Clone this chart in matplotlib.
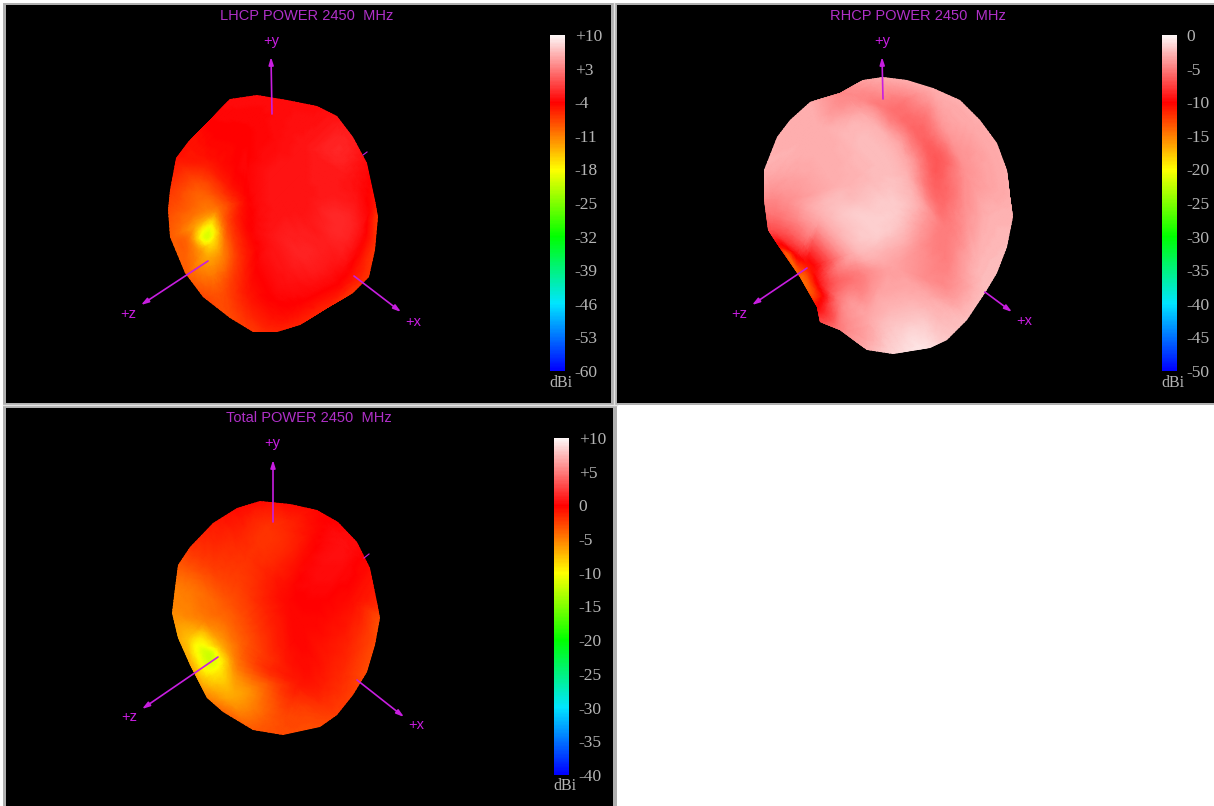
import matplotlib
matplotlib.use('Agg')
import matplotlib.pyplot as plt
import matplotlib.tri as mtri
from matplotlib.colors import LinearSegmentedColormap, Normalize
from matplotlib.cm import ScalarMappable
from matplotlib.patches import Polygon, Rectangle

W = 1214
H = 806

# LHCP pattern, outline then inner points (image pixels, dBi)
lhcp_edge_x = [230, 257, 287, 317, 337, 353, 367, 375, 378, 375, 369, 353, 327, 300, 277, 253, 230, 203, 185, 170, 168, 170, 176, 188, 210]
lhcp_edge_y = [99, 95, 100, 106, 116, 137, 163, 200, 217, 250, 277, 293, 308, 325, 332, 332, 318, 297, 273, 237, 210, 190, 158, 142, 120]
lhcp_edge_db = [-3.5, -3.5, -3.5, -3.5, -3, -2.5, -3.5, -5, -7, -7, -7, -7, -6, -6, -6, -7, -8, -8, -9, -9, -8, -7, -5, -5, -4]
lhcp_in_x = [207, 213, 195, 200, 188, 207, 223, 190, 217, 200, 220, 230, 240, 228, 250, 250, 270, 300, 300, 250, 340, 350, 360, 340, 300, 280, 210, 235]
lhcp_in_y = [237, 243, 225, 250, 240, 258, 257, 215, 207, 190, 293, 285, 260, 225, 200, 290, 240, 200, 150, 130, 150, 180, 230, 280, 300, 320, 160, 190]
lhcp_in_db = [-20, -16, -12.5, -12.5, -10, -13, -11, -10, -10, -9, -8.5, -7.5, -6.5, -8, -4, -5, -3, -3, -3, -4, -2, -3, -3, -4, -4, -5, -5, -5]
lhcp_ticks = [10, 3, -4, -11, -18, -25, -32, -39, -46, -53, -60]
lhcp_labels = ['+10', '+3', '-4', '-11', '-18', '-25', '-32', '-39', '-46', '-53', '-60']

# RHCP pattern
rhcp_edge_x = [863, 883, 907, 933, 960, 980, 997, 1007, 1010, 1013, 1007, 997, 985, 967, 947, 930, 893, 867, 840, 820, 817, 800, 780, 768, 764, 764, 777, 790, 810, 840]
rhcp_edge_y = [80, 77, 80, 88, 100, 120, 143, 170, 197, 217, 247, 273, 293, 320, 340, 348, 354, 350, 330, 322, 307, 277, 248, 230, 200, 170, 137, 120, 102, 93]
rhcp_edge_db = [-3.5, -3, -3, -3, -3, -3, -3, -3, -3, -2.8, -2.5, -2.3, -2.3, -2.3, -2, -1, -1.5, -3, -5, -7, -10, -14, -11, -7, -4.5, -3, -3, -3, -3, -4.5]
rhcp_in_x = [855, 893, 920, 937, 935, 947, 943, 890, 905, 853, 820, 965, 987, 977, 920, 927, 870, 860, 820, 808, 803, 813, 787, 797, 773, 777, 820, 853, 893, 833, 840, 867, 870, 895, 945, 912, 965]
rhcp_in_y = [95, 110, 133, 160, 190, 233, 283, 223, 165, 180, 133, 170, 217, 267, 343, 300, 317, 277, 283, 267, 277, 293, 253, 253, 230, 200, 217, 253, 267, 320, 300, 333, 120, 145, 125, 195, 215]
rhcp_in_db = [-4.5, -5.5, -6, -6.5, -6, -5, -4.5, -1.8, -3, -2.8, -3, -4.2, -3, -2.8, -1, -3, -3.2, -5, -9, -11, -14, -13, -13, -9, -7, -4.5, -3, -3, -3.5, -6.5, -5, -3.5, -3, -3, -3.8, -2.7, -4.2]
rhcp_ticks = [0, -5, -10, -15, -20, -25, -30, -35, -40, -45, -50]
rhcp_labels = ['0', '-5', '-10', '-15', '-20', '-25', '-30', '-35', '-40', '-45', '-50']

# Total pattern
total_edge_x = [237, 260, 290, 317, 338, 357, 370, 377, 380, 375, 367, 353, 337, 320, 283, 253, 223, 207, 190, 178, 172, 175, 178, 190, 213]
total_edge_y = [508, 501, 504, 510, 522, 542, 568, 602, 618, 645, 672, 695, 715, 727, 735, 730, 712, 698, 665, 638, 613, 588, 565, 547, 523]
total_edge_db = [-0.5, -0.5, -0.5, -0.3, 0, 0.3, -0.5, -1.5, -3, -3, -3, -2.5, -2.5, -3, -3, -3.5, -4, -5, -6.5, -6.5, -5.5, -5, -3.5, -2, -1]
total_in_x = [210, 217, 197, 187, 222, 220, 233, 238, 205, 193, 230, 245, 250, 290, 300, 270, 340, 350, 340, 300, 280, 215, 203]
total_in_y = [655, 663, 645, 638, 645, 672, 698, 660, 620, 588, 610, 560, 640, 600, 680, 530, 545, 600, 670, 710, 720, 570, 680]
total_in_db = [-12, -10.5, -10, -7.5, -6.5, -9, -6.5, -4.5, -5, -4.5, -3.5, -2, -3, -0.3, -0.8, -2, 0.5, -0.5, -1.5, -2.5, -3, -2.5, -7.5]
total_ticks = [10, 5, 0, -5, -10, -15, -20, -25, -30, -35, -40]
total_labels = ['+10', '+5', '0', '-5', '-10', '-15', '-20', '-25', '-30', '-35', '-40']

plt.rcParams['font.family'] = ['Liberation Sans', 'DejaVu Sans']

rainbow = LinearSegmentedColormap.from_list(
    'pattern', ['#0000ff', '#00e5ff', '#00ff00', '#ffff00', '#ff0000', '#fdf6f6'])

AXIS_COL = '#c81ee0'
TITLE_COL = '#b030c8'


def pixel_axes(fig, x0, y0, x1, y1):
    return fig.add_axes([x0 / W, 1 - y1 / H, (x1 - x0) / W, (y1 - y0) / H])


def arrow(ax, start, tip):
    ax.annotate('', xy=tip, xytext=start,
                arrowprops=dict(arrowstyle='-|>,head_length=0.45,head_width=0.14', color=AXIS_COL,
                                lw=1.2, shrinkA=0, shrinkB=0))


def panel(fig, box, title, title_xy, ex, ey, edb, ix, iy, idb, ticks, labels,
          arrows, stub, axis_labels, bar_box, dbi_xy):
    ax = pixel_axes(fig, *box)
    ax.set_xlim(box[0], box[2])
    ax.set_ylim(box[3], box[1])
    ax.set_facecolor('black')
    ax.set_xticks([])
    ax.set_yticks([])
    for s in ax.spines.values():
        s.set_visible(False)

    norm = Normalize(ticks[-1], ticks[0])
    tri = mtri.Triangulation(ex + ix, ey + iy)
    interp = mtri.CubicTriInterpolator(tri, edb + idb, kind='geom')
    fine, fine_db = mtri.UniformTriRefiner(tri).refine_field(edb + idb, interp, subdiv=3)
    mesh = ax.tripcolor(fine, fine_db, shading='gouraud', cmap=rainbow, norm=norm)
    mesh.set_clip_path(Polygon(list(zip(ex, ey)), closed=True, transform=ax.transData))

    ax.plot(stub[0], stub[1], color=AXIS_COL, lw=0.8)
    for start, tip in arrows:
        arrow(ax, start, tip)
    for txt, xy in zip(['+y', '+z', '+x'], axis_labels):
        ax.text(xy[0], xy[1], txt, color=AXIS_COL, fontsize=10.5, ha='center', va='center')
    ax.text(title_xy[0], title_xy[1], title, color=TITLE_COL, fontsize=10.5,
            ha='center', va='center')

    cax = pixel_axes(fig, *bar_box)
    cb = fig.colorbar(ScalarMappable(norm=norm, cmap=rainbow), cax=cax)
    cb.outline.set_visible(False)
    cb.set_ticks(ticks, labels=labels)
    cax.tick_params(length=0, pad=7, labelsize=12.5, labelcolor='#b4b4b4')
    for lab in cax.get_yticklabels():
        lab.set_family('Liberation Serif')
    ax.text(dbi_xy[0], dbi_xy[1], 'dBi', color='#b4b4b4', fontsize=11.5,
            family='Liberation Serif', ha='center', va='center')


fig = plt.figure(figsize=(W / 100, H / 100), dpi=100, facecolor='white')

# grey window frames
back = fig.add_axes([0, 0, 1, 1])
back.set_xlim(0, W)
back.set_ylim(H, 0)
back.axis('off')
back.add_patch(Rectangle((3, 3), W - 3, 402, color='#b0b0b0', lw=0))
back.add_patch(Rectangle((3, 405), 614, H - 405, color='#b0b0b0', lw=0))
back.plot([614, 614], [3, 405], color='#e4e4e4', lw=1)
back.plot([3, 617], [405, 405], color='#e4e4e4', lw=1)

panel(fig, (6, 5, 611, 403), 'LHCP POWER 2450  MHz', (307, 16),
      lhcp_edge_x, lhcp_edge_y, lhcp_edge_db, lhcp_in_x, lhcp_in_y, lhcp_in_db,
      lhcp_ticks, lhcp_labels,
      [((272, 114), (271, 57)), ((208, 261), (141, 305)), ((354, 276), (401, 312))],
      ([363, 367], [155, 152]), [(271, 41), (128, 314), (413, 322)],
      (550, 35, 565, 371), (561, 383))
panel(fig, (617, 5, W, 403), 'RHCP POWER 2450  MHz', (918, 16),
      rhcp_edge_x, rhcp_edge_y, rhcp_edge_db, rhcp_in_x, rhcp_in_y, rhcp_in_db,
      rhcp_ticks, rhcp_labels,
      [((883, 99), (882, 57)), ((807, 268), (752, 305)), ((985, 292), (1012, 312))],
      ([984, 985], [292, 292]), [(882, 41), (739, 314), (1024, 321)],
      (1162, 35, 1177, 371), (1173, 383))
panel(fig, (6, 408, 613, H), 'Total POWER 2450  MHz', (309, 418),
      total_edge_x, total_edge_y, total_edge_db, total_in_x, total_in_y, total_in_db,
      total_ticks, total_labels,
      [((273, 522), (273, 460)), ((218, 657), (142, 709)), ((357, 680), (404, 717))],
      ([364, 369], [558, 554]), [(272, 443), (129, 717), (416, 725)],
      (554, 438, 569, 775), (565, 786))

fig.savefig('out.png', dpi=100, facecolor='white')
